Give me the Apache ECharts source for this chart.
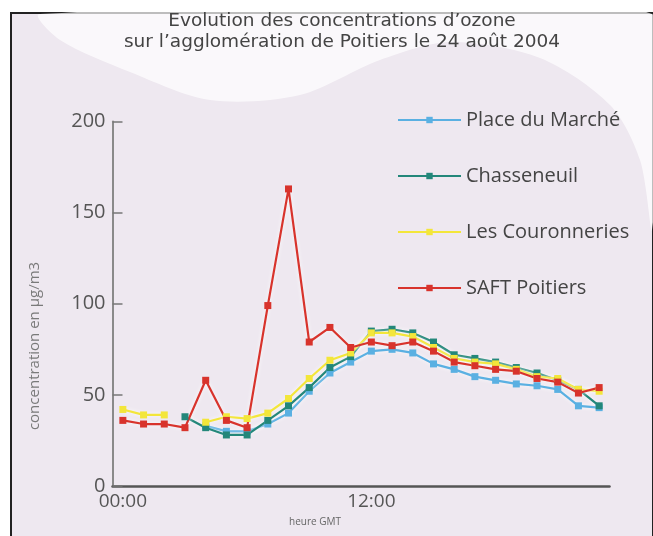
<!DOCTYPE html>
<html>
<head>
  <meta charset="utf-8">
  <script src="https://cdn.jsdelivr.net/npm/echarts@6/dist/echarts.min.js"></script>
  <style>
    html, body { margin: 0; padding: 0; background: #ffffff; }
    #ozone-chart { width: 653px; height: 536px; }
  </style>
</head>
<body>
<section id="ozone-chart"></section>

<script>
  /******************/
  /******************/
  //region    //data

  let hours = ['00:00', '01:00', '02:00', '03:00', '04:00', '05:00', '06:00', '07:00',
    '08:00', '09:00', '10:00', '11:00', '12:00', '13:00', '14:00', '15:00',
    '16:00', '17:00', '18:00', '19:00', '20:00', '21:00', '22:00', '23:00'];

  let placeMarche = [null, null, null, null, 33, 30, 30, 34, 40, 52, 62, 68,
    74, 75, 73, 67, 64, 60, 58, 56, 55, 53, 44, 43];

  let chasseneuil = [null, null, null, 38, 32, 28, 28, 36, 44, 54, 65, 71,
    85, 86, 84, 79, 72, 70, 68, 65, 62, 58, 53, 44];

  let couronneries = [42, 39, 39, null, 35, 38, 37, 40, 48, 59, 69, 73,
    84, 84, 82, 76, 70, 68, 67, 64, 60, 59, 53, 52];

  let saftPoitiers = [36, 34, 34, 32, 58, 36, 32, 99, 163, 79, 87, 76,
    79, 77, 79, 74, 68, 66, 64, 63, 59, 57, 51, 54];

  let yTicks = [0, 50, 100, 150, 200];

  //endregion

  /******************/
  /******************/
  //region    //function

  /**
   * serie ligne avec marqueurs carres
   */
  function makeSerie(name, data, color) {
    return {
      name: name,
      type: 'line',
      data: data,
      symbol: 'rect',
      symbolSize: 7,
      connectNulls: false,
      itemStyle: {color: color},
      lineStyle: {
        color: color,
        width: 2.2,
        shadowColor: 'rgba(255,255,255,0.9)',
        shadowBlur: 4,
      },
      emphasis: {disabled: true},
    }
  }

  /**
   * configure le graphique
   */
  function deployEchart() {
    let echart = echarts.init(document.getElementById('ozone-chart'));
    let labelFont = 'Open Sans';

    let option = {
      backgroundColor: '#ffffff',
      animation: false,
      title: {
        text: 'Evolution des concentrations d\u2019ozone\nsur l\u2019agglom\u00e9ration de Poitiers le 24 ao\u00fbt 2004',
        left: 337,
        textAlign: 'center',
        top: 6,
        textStyle: {
          fontFamily: 'DejaVu Sans',
          fontSize: 18.5,
          fontWeight: 'normal',
          color: '#444444',
          lineHeight: 21,
        },
      },
      graphic: [
        {
          type: 'rect', z: -10, silent: true,
          shape: {x: 11, y: 13, width: 642, height: 530},
          style: {fill: '#eee8f0', stroke: '#222222', lineWidth: 2},
        },
        {
          type: 'polygon', z: -9, silent: true,
          shape: {
            points: [[40, 14], [60, 40], [130, 72], [210, 100], [300, 95],
              [380, 60], [450, 42], [540, 58], [610, 105], [640, 160], [652, 230], [652, 14]],
            smooth: 0.3,
          },
          style: {fill: 'rgba(255,255,255,0.7)'},
        },
        {
          type: 'text', silent: true,
          x: 35, y: 346, rotation: Math.PI / 2,
          style: {
            text: 'concentration en \u00b5g/m3',
            fontFamily: labelFont, fontSize: 15, fill: '#7a7a7a',
            align: 'center', verticalAlign: 'middle',
          },
        },
        {
          type: 'text', silent: true,
          x: 315, y: 522,
          style: {
            text: 'heure GMT',
            fontFamily: labelFont, fontSize: 10, fill: '#666666',
            align: 'center', verticalAlign: 'middle',
          },
        },
      ],
      legend: {
        orient: 'vertical',
        left: 392,
        top: 105,
        itemWidth: 63,
        itemHeight: 8,
        itemGap: 36,
        textStyle: {
          fontFamily: labelFont,
          fontSize: 20,
          color: '#444444',
        },
        data: ['Place du March\u00e9', 'Chasseneuil', 'Les Couronneries', 'SAFT Poitiers'],
      },
      grid: {
        left: 112.5,
        right: 43.5,
        top: 121.5,
        bottom: 50,
        containLabel: false,
      },
      xAxis: {
        type: 'category',
        data: hours,
        boundaryGap: true,
        axisLine: {lineStyle: {color: '#555555', width: 2.5}},
        axisTick: {
          inside: true, length: 6, interval: 0,
          lineStyle: {color: '#555555', width: 1.5},
        },
        axisLabel: {
          interval: 11,
          margin: 6,
          fontFamily: labelFont,
          fontSize: 19,
          color: '#555555',
        },
        splitLine: {show: false},
      },
      yAxis: {
        type: 'value',
        min: yTicks[0],
        max: yTicks[yTicks.length - 1],
        interval: yTicks[1] - yTicks[0],
        axisLine: {show: true, lineStyle: {color: '#8a8a8a', width: 2}},
        axisTick: {
          show: true, inside: true, length: 10,
          lineStyle: {color: '#777777', width: 1.5},
        },
        axisLabel: {
          margin: 7,
          fontFamily: labelFont,
          fontSize: 20,
          color: '#555555',
        },
        splitLine: {show: false},
      },
      series: [
        makeSerie('Place du March\u00e9', placeMarche, '#5ab0e2'),
        makeSerie('Chasseneuil', chasseneuil, '#23877a'),
        makeSerie('Les Couronneries', couronneries, '#f3e63a'),
        makeSerie('SAFT Poitiers', saftPoitiers, '#d8332c'),
      ],
    };

    echart.setOption(option);
  }

  //endregion

  deployEchart();
</script>
</body>
</html>
